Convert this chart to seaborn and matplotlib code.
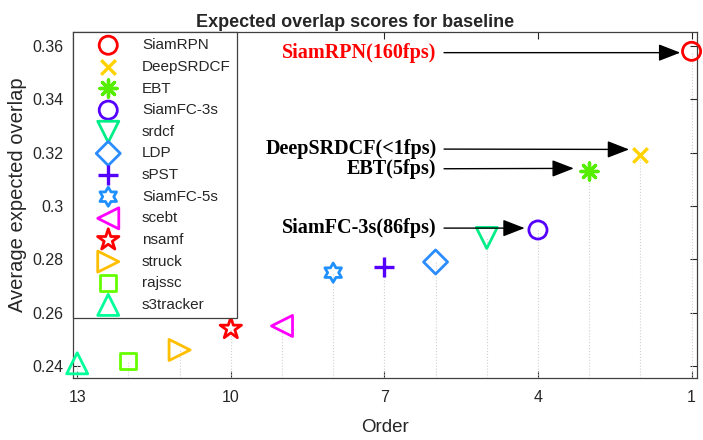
"""
Expected overlap scores for baseline, recreated with seaborn
"""

import numpy as np
import matplotlib
matplotlib.use("Agg")
import matplotlib.pyplot as plt
from matplotlib.path import Path
import seaborn as sns

# data
methods = ["SiamRPN", "DeepSRDCF", "EBT", "SiamFC-3s", "srdcf", "LDP", "sPST",
           "SiamFC-5s", "scebt", "nsamf", "struck", "rajssc", "s3tracker"]
orders = [1, 2, 3, 4, 5, 6, 7, 8, 9, 10, 11, 12, 13]
scores = [0.358, 0.319, 0.313, 0.291, 0.288, 0.279, 0.277,
          0.275, 0.255, 0.254, 0.246, 0.242, 0.241]
colors = ["#ff0000", "#ffd200", "#55ee00", "#5500ff", "#00ee88", "#2a8cff", "#5500ff",
          "#1e90ff", "#ff00ff", "#ff0000", "#ffbf00", "#66ff00", "#00ff99"]

# annotated trackers: label, text colour, text y, arrow tip (x, y)
notes = [("SiamRPN(160fps)", "#ff0000", 0.3575, 1.22, 0.3575),
         ("DeepSRDCF(<1fps)", "black", 0.3214, 2.22, 0.3212),
         ("EBT(5fps)", "black", 0.3139, 3.30, 0.3141),
         ("SiamFC-3s(86fps)", "black", 0.2917, 4.26, 0.2917)]


def hexagram():
    ang = np.deg2rad(90 + 30 * np.arange(12))
    rad = np.where(np.arange(12) % 2 == 0, 1.0, 1 / np.sqrt(3))
    verts = np.column_stack([rad * np.cos(ang), rad * np.sin(ang)])
    verts = np.vstack([verts, verts[:1]])
    return Path(verts, closed=True)


markers = ["o", "x", (8, 2, 0), "o", "v", "D", "+", hexagram(), "<", "*", ">", "s", "^"]
sizes = [170, 110, 150, 170, 230, 150, 200, 190, 230, 260, 230, 130, 230]
line_marks = ("x", "+")

sns.set_style("ticks")
plt.rcParams["font.family"] = ["Liberation Sans", "DejaVu Sans"]

fig = plt.figure(figsize=(7.03, 4.40), dpi=100)
ax = fig.add_axes([0.104, 0.141, 0.887, 0.786])

# dotted stems down from every marker
ax.vlines(orders, 0.2355, scores, colors="#d0d0d0", linestyles=":", linewidth=0.8, zorder=1)

for name, x, y, c, m, s in zip(methods, orders, scores, colors, markers, sizes):
    if m in line_marks or isinstance(m, tuple):
        # line-only markers (x, +, asterisk)
        sns.scatterplot(x=[x], y=[y], marker=m, s=s, color=c, edgecolor=c, linewidth=2.4,
                        label=name, ax=ax, zorder=3, clip_on=False)
    else:
        sns.scatterplot(x=[x], y=[y], marker=m, s=s, facecolor="none", edgecolor=c,
                        linewidth=2, label=name, ax=ax, zorder=3, clip_on=False)

for text, tc, ty, ax_x, ax_y in notes:
    ax.annotate(text, xy=(ax_x, ax_y), xytext=(5.98, ty), ha="right", va="center",
                color=tc, fontsize=14.5, fontweight="bold", family="Liberation Serif",
                arrowprops=dict(arrowstyle="-|>,head_length=0.9,head_width=0.35",
                                color="black", lw=1, mutation_scale=15,
                                shrinkA=3, shrinkB=0))

ax.set_xlim(13.08, 0.9)
ax.set_ylim(0.2355, 0.3652)
ax.set_xticks([13, 10, 7, 4, 1])
ax.set_yticks([0.24, 0.26, 0.28, 0.3, 0.32, 0.34, 0.36])
ax.set_yticklabels(["0.24", "0.26", "0.28", "0.3", "0.32", "0.34", "0.36"])
ax.tick_params(direction="in", top=True, right=True, length=5, width=0.8,
               labelsize=11.5, colors="#262626")
ax.tick_params(axis="y", pad=7)
ax.tick_params(axis="x", pad=9)
for sp in ax.spines.values():
    sp.set_color("#404040")
    sp.set_linewidth(0.9)

ax.set_xlabel("Order", fontsize=13.5, color="#262626", labelpad=10)
ax.set_ylabel("Average expected overlap", fontsize=14.5, color="#262626", labelpad=4, y=0.53)
ax.set_title("Expected overlap scores for baseline", fontsize=13, fontweight="bold",
             pad=4, x=0.452)

leg = ax.legend(loc="upper left", borderaxespad=0, fancybox=False, framealpha=1,
                fontsize=11, labelspacing=0.5, handletextpad=0.3,
                borderpad=0.4, handlelength=3.8, scatterpoints=1)
leg.get_frame().set_edgecolor("#404040")
leg.get_frame().set_linewidth(0.9)

fig.savefig("out.png", dpi=100)
